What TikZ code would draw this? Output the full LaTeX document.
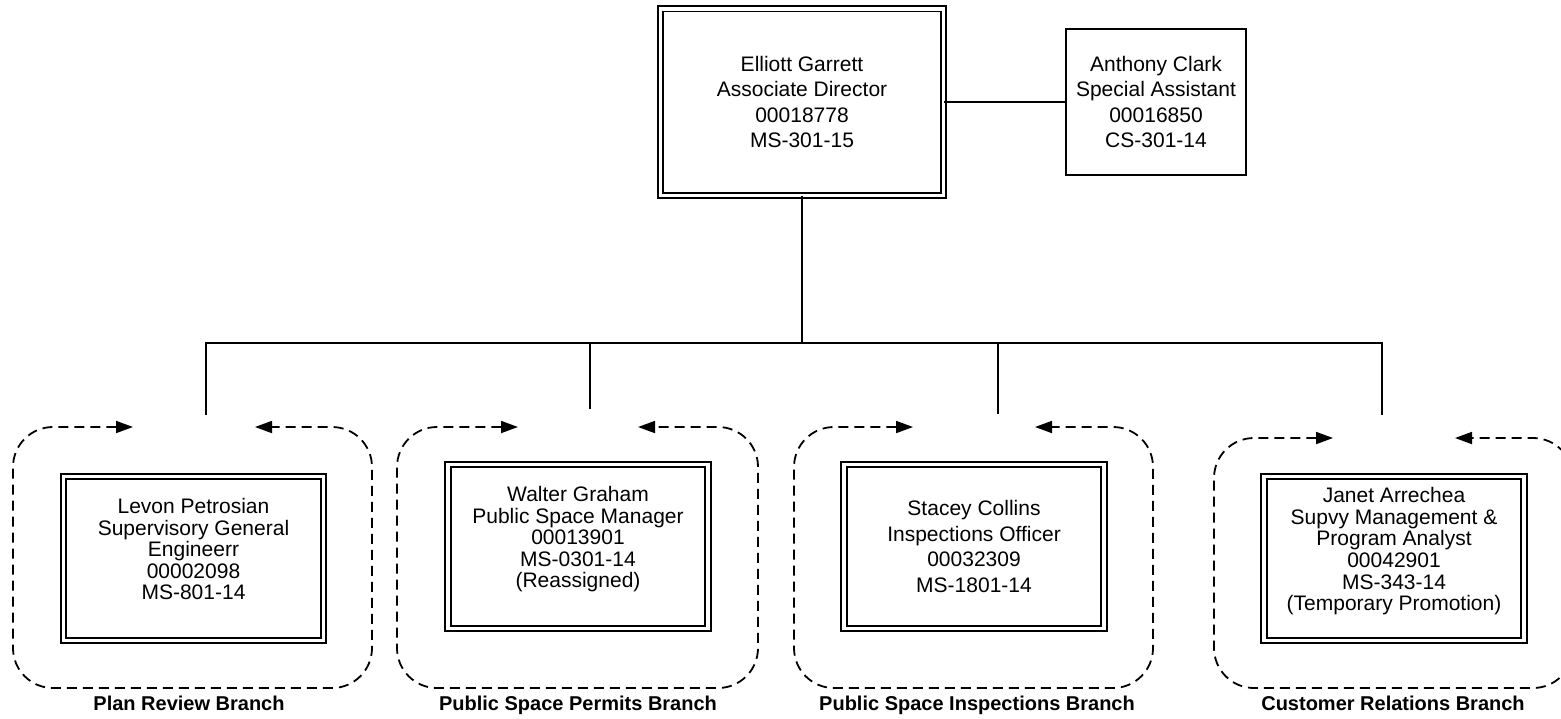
\documentclass[tikz,border=0pt]{standalone}
\usepackage{fontspec}
\setmainfont{Liberation Sans}
\usetikzlibrary{positioning,arrows.meta}

\tikzset{
  ufficio/.style={draw, double, double distance=1.8pt, line width=0.9pt,
    align=center, inner sep=0pt, minimum width=130pt, minimum height=82pt},
  largo/.style={font=\fontsize{10.5}{12.7}\selectfont},
  stretto/.style={font=\fontsize{10.5}{10.8}\selectfont, text depth=9.5pt},
  ramo/.style={dash pattern=on 5pt off 3pt, line width=0.9pt, rounded corners=20pt,
    {Triangle[length=8.5pt,width=6pt]}-{Triangle[length=8.5pt,width=6pt]}},
  etichetta/.style={font=\fontsize{10}{12}\selectfont\bfseries, anchor=base}
}

\begin{document}
\begin{tikzpicture}[x=0.5pt, y=-0.5pt, line width=1pt]

    \clip (0,0) rectangle (1561,718);

    % Direzione e assistente
    \node[ufficio, largo, minimum width=141.5pt, minimum height=93.3pt] (dir) at (802,102)
        {Elliott Garrett\\Associate Director\\00018778\\MS-301-15};
    \node[draw, largo, align=center, inner sep=0pt, minimum width=90pt, minimum height=73pt] (assist) at (1156,102)
        {Anthony Clark\\Special Assistant\\00016850\\CS-301-14};
    \draw (dir.east) -- (assist.west);

    % Responsabili dei rami
    \node[ufficio, stretto] (plan) at (193.5,558.5)
        {Levon Petrosian\\Supervisory General\\Engineerr\\00002098\\MS-801-14};
    \node[ufficio, stretto] (permits) at (578,546.5)
        {Walter Graham\\Public Space Manager\\00013901\\MS-0301-14\\(Reassigned)};
    \node[ufficio, largo] (insp) at (974,546.5)
        {Stacey Collins\\Inspections Officer\\00032309\\MS-1801-14};
    \node[ufficio, stretto] (cust) at (1394,558.5)
        {Janet Arrechea\\Supvy Management \&\\Program Analyst\\00042901\\MS-343-14\\(Temporary Promotion)};

    % Linee di collegamento (estremi liberi sopra i rami)
    \coordinate (bus) at (802,343);
    \coordinate (p1) at (206,415);
    \coordinate (p2) at (590,409);
    \coordinate (p3) at (998,414);
    \coordinate (p4) at (1382,415);
    \draw (dir.south) -- (bus);
    \draw (p1) |- (bus) -| (p4);
    \draw (p2 |- bus) -- (p2);
    \draw (p3 |- bus) -- (p3);

    % Contorni tratteggiati dei rami
    \draw[ramo] (133,427) -- (13,427) -- (13,688) -- (372,688) -- (372,427) -- (255,427);
    \draw[ramo] (518,427) -- (397,427) -- (397,688) -- (758,688) -- (758,427) -- (638,427);
    \draw[ramo] (913,427) -- (794,427) -- (794,688) -- (1153,688) -- (1153,427) -- (1035,427);
    \draw[ramo] (1333,438) -- (1214,438) -- (1214,688) -- (1573,688) -- (1573,438) -- (1455,438);

    % Nomi dei rami
    \node[etichetta] (lplan) at (189,710) {Plan Review Branch};
    \node[etichetta] (lpermits) at (578,710) {Public Space Permits Branch};
    \node[etichetta] (linsp) at (977,710) {Public Space Inspections Branch};
    \node[etichetta] (lcust) at (1393,710) {Customer Relations Branch};

\end{tikzpicture}
\end{document}
